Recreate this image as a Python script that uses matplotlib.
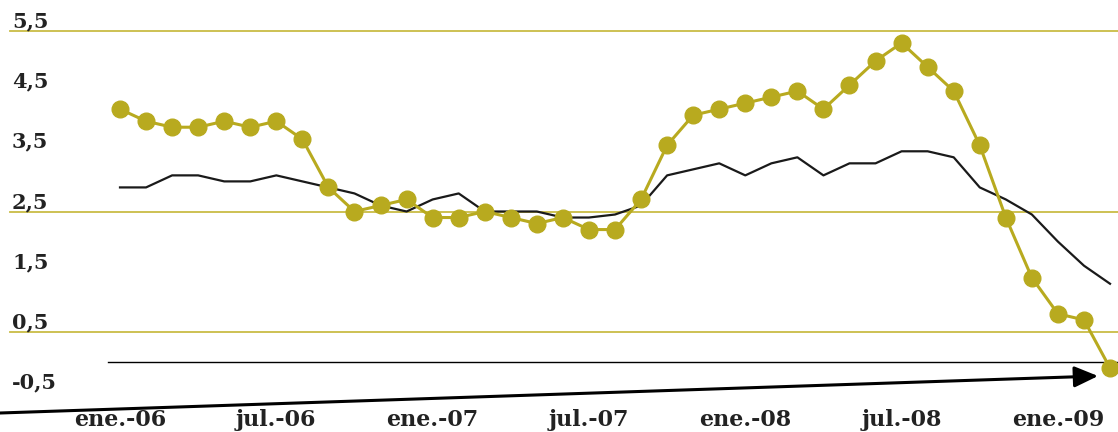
import matplotlib
matplotlib.use("Agg")
import matplotlib.pyplot as plt
import matplotlib.transforms as mtransforms
import numpy as np
import pandas as pd

# monthly series, ene-06 .. mar-09
months = pd.period_range("2006-01", "2009-03", freq="M")
tasa_oro = [4.2, 4.0, 3.9, 3.9, 4.0, 3.9, 4.0, 3.7, 2.9, 2.5, 2.6, 2.7, 2.4,
            2.4, 2.5, 2.4, 2.3, 2.4, 2.2, 2.2, 2.7, 3.6, 4.1, 4.2, 4.3, 4.4,
            4.5, 4.2, 4.6, 5.0, 5.3, 4.9, 4.5, 3.6, 2.4, 1.4, 0.8, 0.7, -0.1]
tasa_negra = [2.9, 2.9, 3.1, 3.1, 3.0, 3.0, 3.1, 3.0, 2.9, 2.8, 2.6, 2.5, 2.7,
              2.8, 2.5, 2.5, 2.5, 2.4, 2.4, 2.45, 2.6, 3.1, 3.2, 3.3, 3.1, 3.3,
              3.4, 3.1, 3.3, 3.3, 3.5, 3.5, 3.4, 2.9, 2.7, 2.45, 2.0, 1.6, 1.3]
x_ticks = [0, 6, 12, 18, 24, 30, 36]
x_labels = ["ene.-06", "jul.-06", "ene.-07", "jul.-07", "ene.-08", "jul.-08", "ene.-09"]
y_ticks = [5.5, 4.5, 3.5, 2.5, 1.5, 0.5, -0.5]
y_labels = ["5,5", "4,5", "3,5", "2,5", "1,5", "0,5", "-0,5"]
grid_vals = [5.5, 2.5, 0.5]

GOLD = "#b8aa1f"
GRID = "#c9bc45"
TXT = "#222222"

x = np.arange(len(months))

fig = plt.figure(figsize=(11.18, 4.32), dpi=100)
ax = fig.add_axes([0, 27 / 432, 1, 405 / 432])
ax.set_xlim(-4.606, 38.306)
ax.set_ylim(-0.714, 6.013)
for s in ax.spines.values():
    s.set_visible(False)

for g in grid_vals:
    ax.axhline(g, xmin=10 / 1118, color=GRID, lw=1.3, zorder=1)
ax.axhline(0, xmin=108 / 1118, color="black", lw=1.0, zorder=1)

ax.plot(x, tasa_negra, color="#1a1a1a", lw=1.6, zorder=2)
ax.plot(x, tasa_oro, color=GOLD, lw=2.2, marker="o", ms=12,
        mfc=GOLD, mec=GOLD, zorder=3)

# y labels sit just above their values, inside the plot
ytrans = mtransforms.blended_transform_factory(ax.transAxes, ax.transData)
ytrans = mtransforms.offset_copy(ytrans, fig=fig, x=0, y=9.5, units="dots")
for v, lab in zip(y_ticks, y_labels):
    ax.text(12 / 1118, v, lab, transform=ytrans, ha="left", va="center",
            fontsize=15, fontweight="bold", family="DejaVu Serif", color=TXT)
ax.set_yticks([])

ax.set_xticks(x_ticks)
ax.set_xticklabels(x_labels, fontsize=16, fontweight="bold",
                   family="DejaVu Serif", color=TXT)
ax.tick_params(axis="x", length=0, pad=3)

# arrow pointing at the last reading
tip = mtransforms.offset_copy(ax.transData, fig=fig, x=-12, y=-8, units="dots")
ax.annotate("", xy=(x[-1], tasa_oro[-1]), xycoords=tip,
            xytext=(0, 19), textcoords="figure pixels",
            arrowprops=dict(arrowstyle="-|>,head_length=0.9,head_width=0.4",
                            mutation_scale=16, lw=2.2, color="black",
                            shrinkA=0, shrinkB=0), zorder=4)

fig.savefig("out.png", dpi=100, facecolor="white")
